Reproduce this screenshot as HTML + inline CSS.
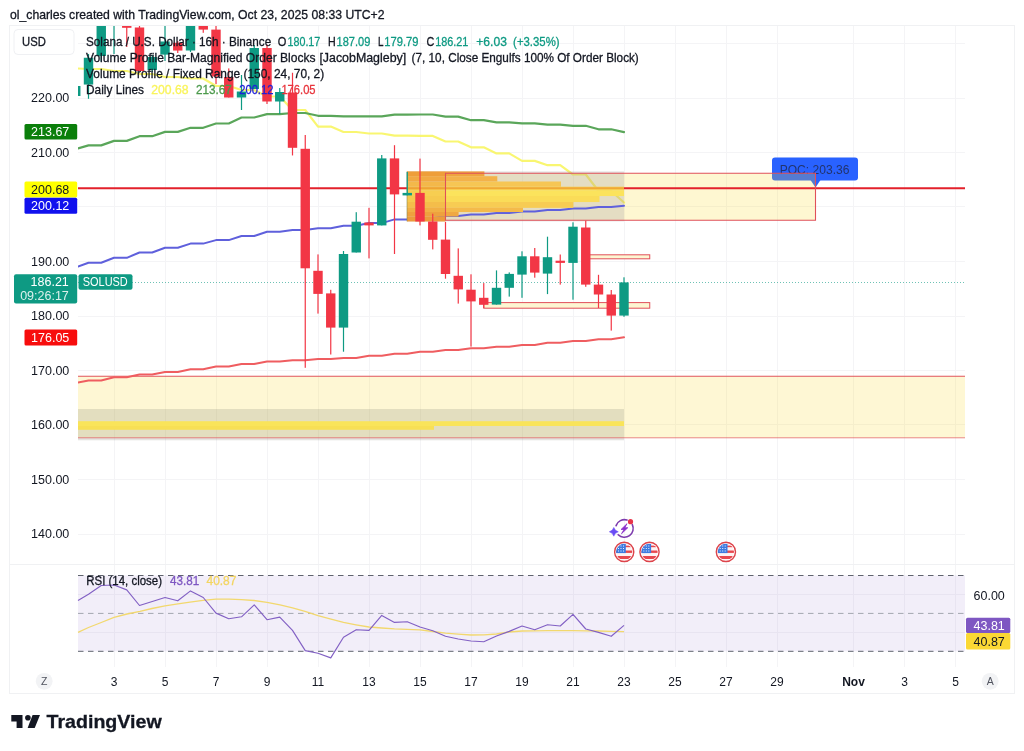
<!DOCTYPE html>
<html lang="en"><head><meta charset="utf-8"><title>SOLUSD chart</title>
<style>html,body{margin:0;padding:0;background:#fff;overflow:hidden}svg{display:block}</style>
</head><body>
<svg width="1024" height="751" viewBox="0 0 1024 751" font-family='"Liberation Sans", Arial, sans-serif'>
<defs>
<clipPath id="cm"><rect x="78" y="26" width="887" height="538.5"/></clipPath>
<clipPath id="cr"><rect x="78" y="566" width="887" height="100"/></clipPath>
</defs>
<rect width="1024" height="751" fill="#fff"/>
<rect x="9.5" y="25.5" width="1005" height="668" fill="none" stroke="#f0f1f3" stroke-width="1"/>
<line x1="10" y1="564.5" x2="1014" y2="564.5" stroke="#f0f1f3" stroke-width="1"/>
<path d="M114.5 26V564 M114.5 565V667 M165.5 26V564 M165.5 565V667 M216.5 26V564 M216.5 565V667 M267.5 26V564 M267.5 565V667 M318.5 26V564 M318.5 565V667 M369.5 26V564 M369.5 565V667 M420.5 26V564 M420.5 565V667 M471.5 26V564 M471.5 565V667 M522.5 26V564 M522.5 565V667 M573.5 26V564 M573.5 565V667 M624.5 26V564 M624.5 565V667 M675.5 26V564 M675.5 565V667 M726.5 26V564 M726.5 565V667 M777.5 26V564 M777.5 565V667 M853.5 26V564 M853.5 565V667 M904.5 26V564 M904.5 565V667 M955.5 26V564 M955.5 565V667 M78 534.5H965 M78 479.5H965 M78 424.5H965 M78 370.5H965 M78 316.5H965 M78 261.5H965 M78 206.5H965 M78 152.5H965 M78 98.5H965 M78 43.5H965 M78 594.5H965 M78 632.5H965" stroke="#f4f4f6" stroke-width="1" fill="none"/>
<g clip-path="url(#cm)">
<g><rect x="772" y="157.5" width="86" height="23" rx="3" fill="#2962ff"/><path d="M810.5 180h10l-5 7.5z" fill="#2962ff"/><text x="779.7" y="173.6" font-size="12.5" textLength="69.7" lengthAdjust="spacingAndGlyphs" fill="#22346e">POC: 203.36</text></g>
<rect x="78" y="376.2" width="887" height="61.6" fill="#fad728" fill-opacity="0.2"/>
<line x1="78" y1="376.2" x2="965" y2="376.2" stroke="#e0555d" stroke-width="1.1"/>
<rect x="78" y="409" width="546" height="31.3" fill="#8c8c78" fill-opacity="0.23"/>
<rect x="78" y="421.2" width="546" height="4.8" fill="#f9e45a"/>
<rect x="78" y="426" width="356" height="3.8" fill="#f7df55"/>
<line x1="78" y1="437.8" x2="965" y2="437.8" stroke="#e0555d" stroke-opacity="0.7" stroke-width="1"/>
<path d="M78.0 68.5 L88.5 69.0 L101.2 69.0 L114.0 71.0 L126.8 71.0 L139.5 74.0 L152.2 74.0 L165.0 77.0 L177.8 77.0 L190.5 78.5 L203.2 78.5 L216.0 86.0 L228.8 86.0 L241.5 90.0 L254.2 90.0 L267.0 96.5 L279.8 96.5 L292.5 110.0 L305.2 110.0 L318.0 126.6 L330.8 126.6 L343.5 132.0 L356.2 132.0 L369.0 133.5 L381.8 133.5 L394.5 135.7 L407.2 135.7 L420.0 135.9 L432.8 135.9 L445.5 141.5 L458.2 141.5 L471.0 147.3 L483.8 147.3 L496.5 153.4 L509.2 153.4 L522.0 160.9 L534.8 160.9 L547.5 165.2 L560.2 165.2 L573.0 174.5 L585.8 174.5 L598.5 191.0 L611.2 191.0 L624.0 202.5" fill="none" stroke="#f8f562" stroke-width="2.2" stroke-linejoin="round" stroke-linecap="round" stroke-opacity="0.9"/>
<path d="M78.0 148.4 L88.5 145.4 L101.2 145.4 L114.0 140.9 L126.8 140.9 L139.5 136.2 L152.2 136.2 L165.0 131.9 L177.8 131.9 L190.5 127.8 L203.2 127.8 L216.0 123.5 L228.8 123.5 L241.5 117.5 L254.2 117.5 L267.0 114.1 L279.8 114.1 L292.5 113.0 L305.2 113.0 L318.0 115.8 L330.8 115.8 L343.5 116.3 L356.2 116.3 L369.0 116.3 L381.8 116.3 L394.5 114.7 L407.2 114.7 L420.0 114.5 L432.8 114.5 L445.5 116.6 L458.2 116.6 L471.0 120.2 L483.8 120.2 L496.5 122.3 L509.2 122.3 L522.0 123.4 L534.8 123.4 L547.5 124.6 L560.2 124.6 L573.0 125.8 L585.8 125.8 L598.5 129.3 L611.2 129.3 L624.0 132.1" fill="none" stroke="#5aa65a" stroke-width="2.2" stroke-linejoin="round" stroke-linecap="round" stroke-opacity="1"/>
<rect x="445.5" y="173.2" width="370" height="47" fill="#fad728" fill-opacity="0.21"/>
<line x1="78" y1="188.2" x2="965" y2="188.2" stroke="#e3212b" stroke-width="2"/>
<rect x="407" y="171.4" width="217" height="50.0" fill="#aaa3a3" fill-opacity="0.3"/>
<path d="M78.0 266.6 L88.5 262.8 L101.2 262.8 L114.0 257.8 L126.8 257.8 L139.5 252.5 L152.2 252.5 L165.0 247.7 L177.8 247.7 L190.5 243.6 L203.2 243.6 L216.0 240.1 L228.8 240.1 L241.5 236.0 L254.2 236.0 L267.0 231.8 L279.8 231.8 L292.5 229.9 L305.2 229.9 L318.0 228.2 L330.8 228.2 L343.5 225.7 L356.2 225.7 L369.0 223.1 L381.8 223.1 L394.5 219.4 L407.2 219.4 L420.0 218.0 L432.8 218.0 L445.5 216.0 L458.2 216.0 L471.0 214.5 L483.8 214.5 L496.5 213.0 L509.2 213.0 L522.0 211.5 L534.8 211.5 L547.5 210.0 L560.2 210.0 L573.0 208.5 L585.8 208.5 L598.5 207.0 L611.2 207.0 L624.0 205.8" fill="none" stroke="#5f60dc" stroke-width="2" stroke-linejoin="round" stroke-linecap="round" stroke-opacity="1"/>
<rect x="407" y="171.4" width="77.4" height="4.85" fill="#efa33f"/>
<rect x="407" y="176.2" width="90.3" height="5.35" fill="#f3b24a"/>
<rect x="407" y="181.5" width="154.0" height="5.25" fill="#f6c654"/>
<rect x="407" y="186.7" width="217.0" height="3.55" fill="#f9cc4c"/>
<rect x="407" y="190.2" width="217.0" height="5.85" fill="#fbe35c"/>
<rect x="407" y="196" width="192.5" height="6.05" fill="#fadc58"/>
<rect x="407" y="202" width="166.4" height="5.85" fill="#f7cc53"/>
<rect x="407" y="207.8" width="116.0" height="4.25" fill="#f4ba4b"/>
<rect x="407" y="212" width="51.6" height="4.55" fill="#f0a843"/>
<rect x="407" y="216.5" width="38.7" height="4.95" fill="#eda040"/>
<rect x="407" y="171.4" width="38.5" height="50.0" fill="#ea8f2e" fill-opacity="0.24"/>
<line x1="407" y1="188.2" x2="624" y2="188.2" stroke="#e8902a" stroke-width="1.2" stroke-opacity="0.8"/>
<path d="M445.5 173.2H815.5V220.3H445.5Z" fill="none" stroke="#e0505a" stroke-width="1.1"/>
<line x1="407" y1="171.4" x2="407" y2="221.4" stroke="#8a8a50" stroke-width="1" stroke-opacity="0.6"/>
<rect x="585.75" y="254.8" width="64" height="4" fill="#fdf6d2" stroke="#e0505a" stroke-width="1"/>
<rect x="483.75" y="302.6" width="166" height="5.6" fill="#fdf6d2" stroke="#e0505a" stroke-width="1"/>
<path d="M78.0 382.5 L88.5 380.5 L101.2 380.5 L114.0 377.2 L126.8 377.2 L139.5 374.6 L152.2 374.6 L165.0 371.9 L177.8 371.9 L190.5 369.3 L203.2 369.3 L216.0 366.6 L228.8 366.6 L241.5 363.9 L254.2 363.9 L267.0 361.6 L279.8 361.6 L292.5 360.2 L305.2 360.2 L318.0 359.0 L330.8 359.0 L343.5 357.9 L356.2 357.9 L369.0 355.7 L381.8 355.7 L394.5 353.8 L407.2 353.8 L420.0 351.7 L432.8 351.7 L445.5 350.0 L458.2 350.0 L471.0 348.3 L483.8 348.3 L496.5 346.8 L509.2 346.8 L522.0 345.0 L534.8 345.0 L547.5 342.7 L560.2 342.7 L573.0 341.1 L585.8 341.1 L598.5 339.2 L611.2 339.2 L624.0 337.3" fill="none" stroke="#ef5d60" stroke-width="2" stroke-linejoin="round" stroke-linecap="round" stroke-opacity="1"/>
<line x1="78" y1="282.5" x2="965" y2="282.5" stroke="#0e9a83" stroke-width="1" stroke-dasharray="1 2" stroke-opacity="0.6"/>
<rect x="75.15" y="86" width="1.2" height="10.0" fill="#0e9a83"/>
<rect x="71.05" y="86" width="9.4" height="10.0" fill="#0e9a83"/>
<rect x="87.90" y="54" width="1.2" height="44.8" fill="#0e9a83"/>
<rect x="83.80" y="57.75" width="9.4" height="26.8" fill="#0e9a83"/>
<rect x="100.65" y="15" width="1.2" height="46.5" fill="#0e9a83"/>
<rect x="96.55" y="15" width="9.4" height="41.0" fill="#0e9a83"/>
<rect x="113.40" y="10" width="1.2" height="44.0" fill="#0e9a83"/>
<rect x="109.30" y="10" width="9.4" height="5.0" fill="#0e9a83"/>
<rect x="126.15" y="15" width="1.2" height="32.0" fill="#f23645"/>
<rect x="122.05" y="15" width="9.4" height="12.8" fill="#f23645"/>
<rect x="138.90" y="20" width="1.2" height="51.0" fill="#f23645"/>
<rect x="134.80" y="27.5" width="9.4" height="43.5" fill="#f23645"/>
<rect x="151.65" y="55" width="1.2" height="17.0" fill="#0e9a83"/>
<rect x="147.55" y="57" width="9.4" height="13.0" fill="#0e9a83"/>
<rect x="164.40" y="15" width="1.2" height="46.0" fill="#0e9a83"/>
<rect x="160.30" y="41.5" width="9.4" height="13.1" fill="#0e9a83"/>
<rect x="177.15" y="41" width="1.2" height="12.0" fill="#f23645"/>
<rect x="173.05" y="42.75" width="9.4" height="7.8" fill="#f23645"/>
<rect x="189.90" y="15" width="1.2" height="37.0" fill="#0e9a83"/>
<rect x="185.80" y="15" width="9.4" height="35.5" fill="#0e9a83"/>
<rect x="202.65" y="15" width="1.2" height="17.8" fill="#f23645"/>
<rect x="198.55" y="15" width="9.4" height="14.6" fill="#f23645"/>
<rect x="215.40" y="20" width="1.2" height="64.0" fill="#f23645"/>
<rect x="211.30" y="29.6" width="9.4" height="46.9" fill="#f23645"/>
<rect x="228.15" y="68.4" width="1.2" height="29.1" fill="#f23645"/>
<rect x="224.05" y="77" width="9.4" height="20.5" fill="#f23645"/>
<rect x="240.90" y="75" width="1.2" height="35.0" fill="#0e9a83"/>
<rect x="236.80" y="91.5" width="9.4" height="6.0" fill="#0e9a83"/>
<rect x="253.65" y="45" width="1.2" height="44.0" fill="#0e9a83"/>
<rect x="249.55" y="48" width="9.4" height="41.0" fill="#0e9a83"/>
<rect x="266.40" y="44.6" width="1.2" height="59.4" fill="#f23645"/>
<rect x="262.30" y="48" width="9.4" height="53.5" fill="#f23645"/>
<rect x="279.15" y="88" width="1.2" height="26.0" fill="#0e9a83"/>
<rect x="275.05" y="92" width="9.4" height="9.5" fill="#0e9a83"/>
<rect x="291.90" y="72.75" width="1.2" height="82.7" fill="#f23645"/>
<rect x="287.80" y="92.5" width="9.4" height="55.3" fill="#f23645"/>
<rect x="304.65" y="135" width="1.2" height="232.8" fill="#f23645"/>
<rect x="300.55" y="148.8" width="9.4" height="119.5" fill="#f23645"/>
<rect x="317.40" y="254.4" width="1.2" height="59.2" fill="#f23645"/>
<rect x="313.30" y="270.8" width="9.4" height="23.1" fill="#f23645"/>
<rect x="330.15" y="289.8" width="1.2" height="64.7" fill="#f23645"/>
<rect x="326.05" y="293.4" width="9.4" height="34.2" fill="#f23645"/>
<rect x="342.90" y="251" width="1.2" height="100.7" fill="#0e9a83"/>
<rect x="338.80" y="254" width="9.4" height="73.6" fill="#0e9a83"/>
<rect x="355.65" y="212.2" width="1.2" height="40.3" fill="#0e9a83"/>
<rect x="351.55" y="221.7" width="9.4" height="30.8" fill="#0e9a83"/>
<rect x="368.40" y="207.8" width="1.2" height="50.6" fill="#f23645"/>
<rect x="364.30" y="222.5" width="9.4" height="2.9" fill="#f23645"/>
<rect x="381.15" y="155" width="1.2" height="70.4" fill="#0e9a83"/>
<rect x="377.05" y="158.4" width="9.4" height="67.0" fill="#0e9a83"/>
<rect x="393.90" y="145.2" width="1.2" height="108.8" fill="#f23645"/>
<rect x="389.80" y="158.4" width="9.4" height="36.0" fill="#f23645"/>
<rect x="406.65" y="172" width="1.2" height="23.4" fill="#0e9a83"/>
<rect x="402.55" y="192.9" width="9.4" height="2.5" fill="#0e9a83"/>
<rect x="419.40" y="158.6" width="1.2" height="66.8" fill="#f23645"/>
<rect x="415.30" y="192.9" width="9.4" height="28.6" fill="#f23645"/>
<rect x="432.15" y="213.7" width="1.2" height="35.7" fill="#f23645"/>
<rect x="428.05" y="221.5" width="9.4" height="18.3" fill="#f23645"/>
<rect x="444.90" y="222" width="1.2" height="56.7" fill="#f23645"/>
<rect x="440.80" y="239.6" width="9.4" height="34.4" fill="#f23645"/>
<rect x="457.65" y="248.4" width="1.2" height="55.2" fill="#f23645"/>
<rect x="453.55" y="275.8" width="9.4" height="13.6" fill="#f23645"/>
<rect x="470.40" y="274.3" width="1.2" height="72.3" fill="#f23645"/>
<rect x="466.30" y="289.7" width="9.4" height="11.7" fill="#f23645"/>
<rect x="483.15" y="283.1" width="1.2" height="24.9" fill="#f23645"/>
<rect x="479.05" y="297.8" width="9.4" height="7.0" fill="#f23645"/>
<rect x="495.90" y="270.4" width="1.2" height="34.2" fill="#0e9a83"/>
<rect x="491.80" y="287.8" width="9.4" height="16.8" fill="#0e9a83"/>
<rect x="508.65" y="272.4" width="1.2" height="24.2" fill="#0e9a83"/>
<rect x="504.55" y="273.9" width="9.4" height="13.9" fill="#0e9a83"/>
<rect x="521.40" y="251.3" width="1.2" height="46.5" fill="#0e9a83"/>
<rect x="517.30" y="256.3" width="9.4" height="18.3" fill="#0e9a83"/>
<rect x="534.15" y="248" width="1.2" height="29.7" fill="#f23645"/>
<rect x="530.05" y="256.3" width="9.4" height="16.3" fill="#f23645"/>
<rect x="546.90" y="236.7" width="1.2" height="57.4" fill="#0e9a83"/>
<rect x="542.80" y="257.2" width="9.4" height="16.4" fill="#0e9a83"/>
<rect x="559.65" y="254.5" width="1.2" height="30.1" fill="#f23645"/>
<rect x="555.55" y="260.7" width="9.4" height="2.2" fill="#f23645"/>
<rect x="572.40" y="222.3" width="1.2" height="77.4" fill="#0e9a83"/>
<rect x="568.30" y="226.7" width="9.4" height="36.2" fill="#0e9a83"/>
<rect x="585.15" y="220.6" width="1.2" height="66.2" fill="#f23645"/>
<rect x="581.05" y="227.5" width="9.4" height="57.1" fill="#f23645"/>
<rect x="597.90" y="274.8" width="1.2" height="33.2" fill="#f23645"/>
<rect x="593.80" y="284.6" width="9.4" height="9.9" fill="#f23645"/>
<rect x="610.65" y="290" width="1.2" height="40.6" fill="#f23645"/>
<rect x="606.55" y="294.5" width="9.4" height="21.1" fill="#f23645"/>
<rect x="623.40" y="277.3" width="1.2" height="39.5" fill="#0e9a83"/>
<rect x="619.30" y="282.4" width="9.4" height="33.2" fill="#0e9a83"/>
<g transform="translate(624.2 551.9)"><clipPath id="fc624"><circle r="8.1"/></clipPath><circle r="9.6" fill="#fff" stroke="#dd444b" stroke-width="1.4"/><g clip-path="url(#fc624)"><rect x="-9" y="-9" width="18" height="18" fill="#fdf3f3"/><rect x="-9" y="-6.30" width="18" height="1.6" fill="#e8474e"/><rect x="-9" y="-1.40" width="18" height="2.4" fill="#e8474e"/><rect x="-9" y="4.10" width="18" height="3.0" fill="#e8474e"/><rect x="-9" y="-9" width="10.6" height="10.2" fill="#3d7be0"/><rect x="-6.2" y="-6.4" width="1" height="1" fill="#fff" fill-opacity="0.9"/><rect x="-3.7" y="-6.4" width="1" height="1" fill="#fff" fill-opacity="0.9"/><rect x="-1.2" y="-6.4" width="1" height="1" fill="#fff" fill-opacity="0.9"/><rect x="-6.2" y="-3.9" width="1" height="1" fill="#fff" fill-opacity="0.9"/><rect x="-3.7" y="-3.9" width="1" height="1" fill="#fff" fill-opacity="0.9"/><rect x="-1.2" y="-3.9" width="1" height="1" fill="#fff" fill-opacity="0.9"/><rect x="-6.2" y="-1.4" width="1" height="1" fill="#fff" fill-opacity="0.9"/><rect x="-3.7" y="-1.4" width="1" height="1" fill="#fff" fill-opacity="0.9"/><rect x="-1.2" y="-1.4" width="1" height="1" fill="#fff" fill-opacity="0.9"/></g></g>
<g transform="translate(649.5 551.9)"><clipPath id="fc649"><circle r="8.1"/></clipPath><circle r="9.6" fill="#fff" stroke="#dd444b" stroke-width="1.4"/><g clip-path="url(#fc649)"><rect x="-9" y="-9" width="18" height="18" fill="#fdf3f3"/><rect x="-9" y="-6.30" width="18" height="1.6" fill="#e8474e"/><rect x="-9" y="-1.40" width="18" height="2.4" fill="#e8474e"/><rect x="-9" y="4.10" width="18" height="3.0" fill="#e8474e"/><rect x="-9" y="-9" width="10.6" height="10.2" fill="#3d7be0"/><rect x="-6.2" y="-6.4" width="1" height="1" fill="#fff" fill-opacity="0.9"/><rect x="-3.7" y="-6.4" width="1" height="1" fill="#fff" fill-opacity="0.9"/><rect x="-1.2" y="-6.4" width="1" height="1" fill="#fff" fill-opacity="0.9"/><rect x="-6.2" y="-3.9" width="1" height="1" fill="#fff" fill-opacity="0.9"/><rect x="-3.7" y="-3.9" width="1" height="1" fill="#fff" fill-opacity="0.9"/><rect x="-1.2" y="-3.9" width="1" height="1" fill="#fff" fill-opacity="0.9"/><rect x="-6.2" y="-1.4" width="1" height="1" fill="#fff" fill-opacity="0.9"/><rect x="-3.7" y="-1.4" width="1" height="1" fill="#fff" fill-opacity="0.9"/><rect x="-1.2" y="-1.4" width="1" height="1" fill="#fff" fill-opacity="0.9"/></g></g>
<g transform="translate(725.9 551.9)"><clipPath id="fc725"><circle r="8.1"/></clipPath><circle r="9.6" fill="#fff" stroke="#dd444b" stroke-width="1.4"/><g clip-path="url(#fc725)"><rect x="-9" y="-9" width="18" height="18" fill="#fdf3f3"/><rect x="-9" y="-6.30" width="18" height="1.6" fill="#e8474e"/><rect x="-9" y="-1.40" width="18" height="2.4" fill="#e8474e"/><rect x="-9" y="4.10" width="18" height="3.0" fill="#e8474e"/><rect x="-9" y="-9" width="10.6" height="10.2" fill="#3d7be0"/><rect x="-6.2" y="-6.4" width="1" height="1" fill="#fff" fill-opacity="0.9"/><rect x="-3.7" y="-6.4" width="1" height="1" fill="#fff" fill-opacity="0.9"/><rect x="-1.2" y="-6.4" width="1" height="1" fill="#fff" fill-opacity="0.9"/><rect x="-6.2" y="-3.9" width="1" height="1" fill="#fff" fill-opacity="0.9"/><rect x="-3.7" y="-3.9" width="1" height="1" fill="#fff" fill-opacity="0.9"/><rect x="-1.2" y="-3.9" width="1" height="1" fill="#fff" fill-opacity="0.9"/><rect x="-6.2" y="-1.4" width="1" height="1" fill="#fff" fill-opacity="0.9"/><rect x="-3.7" y="-1.4" width="1" height="1" fill="#fff" fill-opacity="0.9"/><rect x="-1.2" y="-1.4" width="1" height="1" fill="#fff" fill-opacity="0.9"/></g></g>
<g transform="translate(624.4 528.5)"><path d="M-8.32 -2.87A8.8 8.8 0 0 1 2.57 -8.42M7.91 -3.86A8.8 8.8 0 0 1 -6.22 6.22" fill="none" stroke="#7d3cae" stroke-width="1.6" stroke-linecap="round"/><path d="M2.6 -4.8L-3.4 1H-0.4L-2.9 5.2L3.4 -0.8H0.4Z" fill="#8b30cc" stroke="#8b30cc" stroke-width="0.8" stroke-linejoin="round"/><path d="M-10.6 -1.1Q-9.6 2.3 -6.1 3.3Q-9.6 4.3 -10.6 7.7Q-11.6 4.3 -15.1 3.3Q-11.6 2.3 -10.6 -1.1Z" fill="#6a4cf5" stroke="#6a4cf5" stroke-width="0.5" stroke-linejoin="round"/><circle cx="6.1" cy="-6.8" r="2.6" fill="#e8344a"/></g>
</g>
<rect x="78" y="575.5" width="887" height="75.8" fill="#7e57c2" fill-opacity="0.1"/>
<path d="M78 575.5H965 M78 651.3H965" stroke="#60646e" stroke-width="1" stroke-dasharray="5.5 4.5" fill="none"/>
<path d="M78 613.4H965" stroke="#a3a6af" stroke-width="1" stroke-dasharray="5.5 4.5" fill="none"/>
<path d="M78 632.4 L88.5 627.5 L100 623 L114 617.4 L127 614 L140 611.4 L152 608.5 L165 605.8 L178 603.8 L190 602.1 L203 600.4 L216 599.2 L229 599.2 L241.5 599.6 L254 600.5 L267 602.3 L280 604.8 L292.5 607.8 L305 611.4 L318 615.6 L331 619.2 L343.5 622.4 L356 624.8 L369 627 L381.75 628 L394.5 628.8 L407 629.3 L420 629.8 L433 631.5 L445.5 633.2 L458 634.2 L471 635 L484 634.8 L496.5 634 L509 632 L522 631 L535 630.8 L547.5 630.7 L560 630.7 L573 630.7 L586 630.8 L598.5 631 L611 631.4 L624 631.7" fill="none" stroke="#f2d86e" stroke-width="1.3" stroke-linejoin="round"/>
<path d="M78 600.5 L88.5 594.2 L101.25 585.5 L114 585 L126.75 589.9 L139.5 605.5 L152.25 601.5 L165 597.5 L177.75 600.8 L190.5 590.9 L203.25 597.5 L216 613.1 L228.75 618.7 L241.5 616.8 L254.25 604.8 L267 619.7 L279.75 617.1 L292.5 630.4 L305.25 650.6 L318 653.3 L330.75 657.9 L343.5 637.3 L356.25 629.7 L369 630.4 L381.75 615.4 L394.5 622.4 L407.25 621.7 L420 627 L432.75 630.7 L445.5 636.3 L458.25 639 L471 641 L483.75 641.7 L496.5 636 L509.25 631.4 L522 626 L534.75 629.7 L547.5 624.7 L560.25 626 L573 614.4 L585.75 629 L598.5 632.4 L611.25 636.3 L624 625.4" fill="none" stroke="#8260c4" stroke-width="1.15" stroke-linejoin="round"/>
<text x="10" y="19.4" font-size="12.6" fill="#131722" stroke="#131722" stroke-width="0.3" font-weight="normal" textLength="374.5" lengthAdjust="spacingAndGlyphs" >ol_charles created with TradingView.com, Oct 23, 2025 08:33 UTC+2</text>
<rect x="14" y="29.5" width="60" height="25" rx="4" fill="#fff" stroke="#eff0f3" stroke-width="1"/>
<text x="22" y="46.3" font-size="12.5" fill="#131722" stroke="#131722" stroke-width="0.3" font-weight="normal" textLength="23.8" lengthAdjust="spacingAndGlyphs" >USD</text>
<text x="86" y="45.8" font-size="12.5" fill="#131722" stroke="#131722" stroke-width="0.3" font-weight="normal" textLength="185.2" lengthAdjust="spacingAndGlyphs" >Solana / U.S. Dollar · 16h · Binance</text>
<text x="277.8" y="45.8" font-size="12.5" fill="#131722" stroke="#131722" stroke-width="0.3" font-weight="normal" textLength="8.6" lengthAdjust="spacingAndGlyphs" >O</text>
<text x="287.5" y="45.8" font-size="12.5" fill="#0e9a83" stroke="#0e9a83" stroke-width="0.3" font-weight="normal" textLength="32.8" lengthAdjust="spacingAndGlyphs" >180.17</text>
<text x="328.1" y="45.8" font-size="12.5" fill="#131722" stroke="#131722" stroke-width="0.3" font-weight="normal" textLength="7.7" lengthAdjust="spacingAndGlyphs" >H</text>
<text x="336.6" y="45.8" font-size="12.5" fill="#0e9a83" stroke="#0e9a83" stroke-width="0.3" font-weight="normal" textLength="33.7" lengthAdjust="spacingAndGlyphs" >187.09</text>
<text x="378.1" y="45.8" font-size="12.5" fill="#131722" stroke="#131722" stroke-width="0.3" font-weight="normal" textLength="5.5" lengthAdjust="spacingAndGlyphs" >L</text>
<text x="384.3" y="45.8" font-size="12.5" fill="#0e9a83" stroke="#0e9a83" stroke-width="0.3" font-weight="normal" textLength="34.1" lengthAdjust="spacingAndGlyphs" >179.79</text>
<text x="426.6" y="45.8" font-size="12.5" fill="#131722" stroke="#131722" stroke-width="0.3" font-weight="normal" textLength="7.8" lengthAdjust="spacingAndGlyphs" >C</text>
<text x="435.2" y="45.8" font-size="12.5" fill="#0e9a83" stroke="#0e9a83" stroke-width="0.3" font-weight="normal" textLength="33.2" lengthAdjust="spacingAndGlyphs" >186.21</text>
<text x="476.3" y="45.8" font-size="12.5" fill="#0e9a83" stroke="#0e9a83" stroke-width="0.3" font-weight="normal" textLength="30.6" lengthAdjust="spacingAndGlyphs" >+6.03</text>
<text x="513.1" y="45.8" font-size="12.5" fill="#0e9a83" stroke="#0e9a83" stroke-width="0.3" font-weight="normal" textLength="46.5" lengthAdjust="spacingAndGlyphs" >(+3.35%)</text>
<text x="86" y="61.8" font-size="12.5" fill="#131722" stroke="#131722" stroke-width="0.3" font-weight="normal" textLength="229.6" lengthAdjust="spacingAndGlyphs" >Volume Profile Bar-Magnified Order Blocks</text>
<text x="319.4" y="61.8" font-size="12.5" fill="#131722" stroke="#131722" stroke-width="0.3" font-weight="normal" textLength="86.8" lengthAdjust="spacingAndGlyphs" >[JacobMagleby]</text>
<text x="411.6" y="61.8" font-size="12.5" fill="#131722" stroke="#131722" stroke-width="0.3" font-weight="normal" textLength="227.2" lengthAdjust="spacingAndGlyphs" >(7, 10, Close Engulfs 100% Of Order Block)</text>
<text x="86" y="77.8" font-size="12.5" fill="#131722" stroke="#131722" stroke-width="0.3" font-weight="normal" textLength="238.2" lengthAdjust="spacingAndGlyphs" >Volume Profile / Fixed Range (150, 24, 70, 2)</text>
<text x="86" y="93.9" font-size="12.5" fill="#131722" stroke="#131722" stroke-width="0.3" font-weight="normal" textLength="58.0" lengthAdjust="spacingAndGlyphs" >Daily Lines</text>
<text x="151.3" y="93.9" font-size="12.5" fill="#f9f45c" stroke="#f9f45c" stroke-width="0.3" font-weight="normal" textLength="37.3" lengthAdjust="spacingAndGlyphs" >200.68</text>
<text x="196" y="93.9" font-size="12.5" fill="#4c9a4c" stroke="#4c9a4c" stroke-width="0.3" font-weight="normal" textLength="35.9" lengthAdjust="spacingAndGlyphs" >213.67</text>
<text x="239.2" y="93.9" font-size="12.5" fill="#2020d8" stroke="#2020d8" stroke-width="0.3" font-weight="normal" textLength="34.2" lengthAdjust="spacingAndGlyphs" >200.12</text>
<text x="281.4" y="93.9" font-size="12.5" fill="#e8343c" stroke="#e8343c" stroke-width="0.3" font-weight="normal" textLength="34.2" lengthAdjust="spacingAndGlyphs" >176.05</text>
<text x="69.3" y="538.0" font-size="12.5" fill="#131722" text-anchor="end" font-weight="normal" >140.00</text>
<text x="69.3" y="483.5" font-size="12.5" fill="#131722" text-anchor="end" font-weight="normal" >150.00</text>
<text x="69.3" y="429.0" font-size="12.5" fill="#131722" text-anchor="end" font-weight="normal" >160.00</text>
<text x="69.3" y="374.5" font-size="12.5" fill="#131722" text-anchor="end" font-weight="normal" >170.00</text>
<text x="69.3" y="320.0" font-size="12.5" fill="#131722" text-anchor="end" font-weight="normal" >180.00</text>
<text x="69.3" y="265.5" font-size="12.5" fill="#131722" text-anchor="end" font-weight="normal" >190.00</text>
<text x="69.3" y="156.5" font-size="12.5" fill="#131722" text-anchor="end" font-weight="normal" >210.00</text>
<text x="69.3" y="102.0" font-size="12.5" fill="#131722" text-anchor="end" font-weight="normal" >220.00</text>
<rect x="24.5" y="124" width="52.7" height="15.5" rx="1.5" fill="#0b7f0b"/><text x="69.3" y="136.25" font-size="12.5" fill="#fff" text-anchor="end" font-weight="normal" >213.67</text>
<rect x="24.5" y="181.4" width="52.7" height="16" rx="1.5" fill="#ffff00"/><text x="69.3" y="193.9" font-size="12.5" fill="#131722" text-anchor="end" font-weight="normal" >200.68</text>
<rect x="24.5" y="197.8" width="52.7" height="16" rx="1.5" fill="#1111ee"/><text x="69.3" y="210.3" font-size="12.5" fill="#fff" text-anchor="end" font-weight="normal" >200.12</text>
<rect x="24.5" y="329.4" width="52.7" height="16" rx="1.5" fill="#f70d0d"/><text x="69.3" y="341.9" font-size="12.5" fill="#fff" text-anchor="end" font-weight="normal" >176.05</text>
<rect x="14" y="274.2" width="63.2" height="29.4" rx="2" fill="#0e9a83"/>
<text x="68.8" y="286.3" font-size="12.5" fill="#fff" text-anchor="end" font-weight="normal" >186.21</text>
<text x="68.8" y="299.6" font-size="12.5" fill="#fff" text-anchor="end" font-weight="normal" fill-opacity="0.85">09:26:17</text>
<rect x="78.5" y="274.2" width="54" height="15.5" rx="2" fill="#0e9a83"/>
<text x="82.7" y="286.3" font-size="12.5" fill="#fff" stroke="#fff" stroke-width="0" font-weight="normal" textLength="45.1" lengthAdjust="spacingAndGlyphs" >SOLUSD</text>
<text x="86.3" y="585" font-size="12.5" fill="#131722" stroke="#131722" stroke-width="0.3" font-weight="normal" textLength="75.7" lengthAdjust="spacingAndGlyphs" >RSI (14, close)</text>
<text x="170" y="585" font-size="12.5" fill="#7e57c2" stroke="#7e57c2" stroke-width="0.3" font-weight="normal" textLength="29.2" lengthAdjust="spacingAndGlyphs" >43.81</text>
<text x="206.5" y="585" font-size="12.5" fill="#f3d562" stroke="#f3d562" stroke-width="0.3" font-weight="normal" textLength="29.9" lengthAdjust="spacingAndGlyphs" >40.87</text>
<text x="973.5" y="599.5" font-size="12.5" fill="#131722" text-anchor="start" font-weight="normal" >60.00</text>
<rect x="966" y="617.7" width="44.3" height="15.4" rx="1.5" fill="#7e57c2"/>
<text x="973.5" y="630" font-size="12.5" fill="#fff" text-anchor="start" font-weight="normal" >43.81</text>
<rect x="966" y="633.1" width="44.3" height="16.4" rx="1.5" fill="#fbd834"/>
<text x="973.5" y="646" font-size="12.5" fill="#131722" text-anchor="start" font-weight="normal" >40.87</text>
<text x="114" y="685.7" font-size="12" fill="#131722" text-anchor="middle" font-weight="normal" >3</text>
<text x="165" y="685.7" font-size="12" fill="#131722" text-anchor="middle" font-weight="normal" >5</text>
<text x="216" y="685.7" font-size="12" fill="#131722" text-anchor="middle" font-weight="normal" >7</text>
<text x="267" y="685.7" font-size="12" fill="#131722" text-anchor="middle" font-weight="normal" >9</text>
<text x="318" y="685.7" font-size="12" fill="#131722" text-anchor="middle" font-weight="normal" >11</text>
<text x="369" y="685.7" font-size="12" fill="#131722" text-anchor="middle" font-weight="normal" >13</text>
<text x="420" y="685.7" font-size="12" fill="#131722" text-anchor="middle" font-weight="normal" >15</text>
<text x="471" y="685.7" font-size="12" fill="#131722" text-anchor="middle" font-weight="normal" >17</text>
<text x="522" y="685.7" font-size="12" fill="#131722" text-anchor="middle" font-weight="normal" >19</text>
<text x="573" y="685.7" font-size="12" fill="#131722" text-anchor="middle" font-weight="normal" >21</text>
<text x="624" y="685.7" font-size="12" fill="#131722" text-anchor="middle" font-weight="normal" >23</text>
<text x="675" y="685.7" font-size="12" fill="#131722" text-anchor="middle" font-weight="normal" >25</text>
<text x="726" y="685.7" font-size="12" fill="#131722" text-anchor="middle" font-weight="normal" >27</text>
<text x="777" y="685.7" font-size="12" fill="#131722" text-anchor="middle" font-weight="normal" >29</text>
<text x="853.5" y="685.7" font-size="12" fill="#131722" text-anchor="middle" font-weight="bold" >Nov</text>
<text x="904.5" y="685.7" font-size="12" fill="#131722" text-anchor="middle" font-weight="normal" >3</text>
<text x="955.5" y="685.7" font-size="12" fill="#131722" text-anchor="middle" font-weight="normal" >5</text>
<circle cx="44.2" cy="681.3" r="8.4" fill="#f2f3f5"/><text x="44.2" y="685.2" font-size="10.5" fill="#50535e" text-anchor="middle" font-weight="normal" >Z</text>
<circle cx="990.2" cy="681.3" r="8.4" fill="#f2f3f5"/><text x="990.2" y="685.2" font-size="10.5" fill="#50535e" text-anchor="middle" font-weight="normal" >A</text>
<g fill="#131722"><path d="M11.3 715H22.5V728H16.6V721.5H11.3Z"/><circle cx="27.9" cy="717.7" r="2.8"/><path d="M32.6 715H40L34.7 728H27.6Z"/></g>
<text x="46.5" y="728.2" font-size="19" fill="#131722" stroke="#131722" stroke-width="0.3" font-weight="bold" textLength="115.2" lengthAdjust="spacingAndGlyphs" >TradingView</text>
</svg>
</body></html>
